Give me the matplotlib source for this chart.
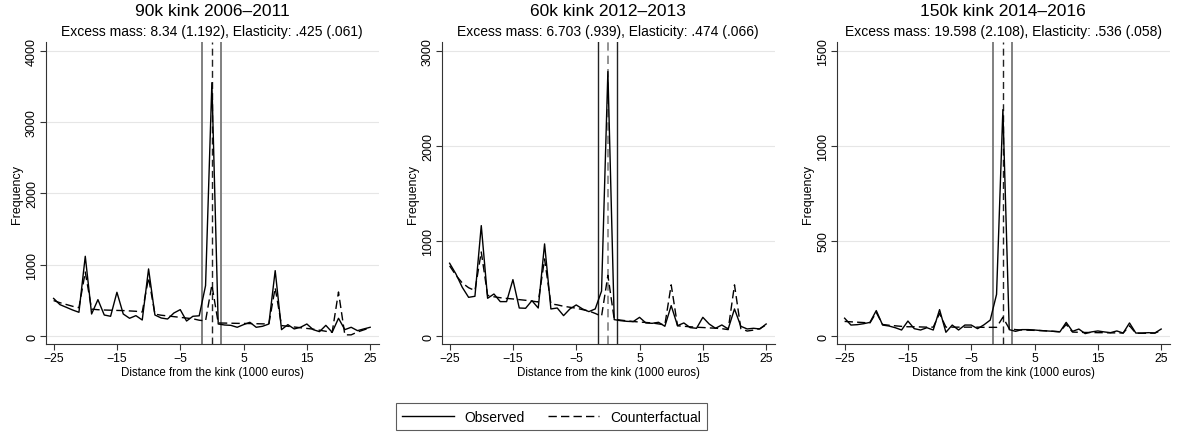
import matplotlib
matplotlib.use('Agg')
import matplotlib.pyplot as plt
from matplotlib.lines import Line2D

plt.rcParams['font.family'] = ['Liberation Sans', 'DejaVu Sans']

distance = list(range(-25, 26))

titles = ['90k kink 2006–2011', '60k kink 2012–2013', '150k kink 2014–2016']
subtitles = [
    'Excess mass: 8.34 (1.192), Elasticity: .425 (.061)',
    'Excess mass: 6.703 (.939), Elasticity: .474 (.066)',
    'Excess mass: 19.598 (2.108), Elasticity: .536 (.058)',
]

observed90 = [530, 443, 406, 368, 336, 1120, 312, 513, 298, 280,
              616, 312, 252, 289, 228, 943, 298, 256, 242, 326,
              373, 214, 280, 287, 709, 3550, 172, 158, 153, 126,
              163, 196, 126, 140, 172, 919, 93, 163, 103, 126,
              172, 93, 65, 153, 56, 252, 93, 126, 79, 103, 126]
counter90 = [500, 470, 445, 420, 400, 900, 380, 372, 368, 365,
             362, 360, 355, 350, 340, 820, 310, 295, 285, 275,
             265, 255, 245, 225, 215, 720, 186, 185, 183, 181,
             180, 178, 176, 174, 172, 680, 150, 140, 130, 120,
             110, 100, 85, 70, 55, 620, 20, 20, 60, 90, 120]

observed60 = [767, 654, 514, 409, 420, 1162, 399, 444, 364, 364,
              595, 297, 294, 374, 297, 970, 287, 297, 217, 287,
              329, 287, 259, 287, 475, 2780, 175, 164, 157, 154,
              199, 140, 136, 147, 105, 322, 112, 140, 91, 84,
              199, 129, 84, 119, 77, 287, 105, 77, 84, 77, 129]
counter60 = [740, 640, 560, 510, 480, 885, 430, 415, 405, 398,
             392, 385, 378, 370, 360, 812, 340, 330, 315, 305,
             295, 280, 265, 240, 210, 640, 180, 170, 162, 155,
             150, 145, 140, 130, 120, 540, 110, 105, 100, 95,
             92, 88, 85, 80, 70, 540, 80, 55, 65, 80, 120]

observed150 = [95, 59, 61, 66, 73, 135, 59, 54, 45, 33,
               80, 40, 33, 45, 33, 140, 21, 59, 33, 59,
               59, 40, 60, 85, 220, 1190, 35, 26, 35, 35,
               33, 30, 28, 26, 23, 73, 26, 38, 14, 23,
               28, 23, 19, 28, 17, 70, 17, 17, 19, 17, 38]
counter150 = [78, 76, 74, 72, 70, 125, 62, 58, 55, 52,
              50, 50, 49, 48, 48, 120, 48, 48, 48, 48,
              48, 48, 47, 47, 47, 100, 40, 35, 33, 32,
              31, 30, 28, 26, 24, 62, 22, 21, 20, 20,
              19, 19, 18, 18, 17, 55, 16, 16, 16, 17, 30]

observedAll = [observed90, observed60, observed150]
counterAll = [counter90, counter60, counter150]
yTicks = [[0, 1000, 2000, 3000, 4000], [0, 1000, 2000, 3000], [0, 500, 1000, 1500]]
xTicks = [-25, -15, -5, 5, 15, 25]
windowEdges = [-1.5, 1.5]

fig = plt.figure(figsize=(11.81, 4.35), dpi=100)
axLefts = [45.7, 441.7, 836.7]
axWidth = 333.0

for i in range(3):
    ax = fig.add_axes([axLefts[i] / 1181, 90 / 435, axWidth / 1181, 302 / 435])
    top = yTicks[i][-1]
    ax.set_ylim(-0.027 * top, 1.03 * top)
    ax.set_xlim(-26.25, 26.35)

    for y in yTicks[i]:
        ax.axhline(y, color='#e6e6e6', lw=0.8, zorder=0)

    # middle panel has dark window edges and a grey kink line, the others the reverse
    if i == 1:
        ax.axvline(windowEdges[0], color='#222222', lw=1.0, zorder=1)
        ax.axvline(windowEdges[1], color='#222222', lw=1.0, zorder=1)
        ax.axvline(0, color='#808080', lw=1.2, linestyle=(0, (5, 3)), zorder=1)
    else:
        ax.axvline(windowEdges[0], color='#808080', lw=1.4, zorder=1)
        ax.axvline(windowEdges[1], color='#808080', lw=1.4, zorder=1)
        ax.axvline(0, color='#222222', lw=1.0, linestyle=(0, (5, 3)), zorder=1)

    ax.plot(distance, observedAll[i], color='black', lw=1.0, zorder=3)
    ax.plot(distance, counterAll[i], color='black', lw=1.0, linestyle=(0, (6, 3)), zorder=3)

    for side in ['top', 'right']:
        ax.spines[side].set_visible(False)
    for side in ['left', 'bottom']:
        ax.spines[side].set_color('#333333')
        ax.spines[side].set_linewidth(0.8)

    ax.set_xticks(xTicks)
    ax.set_yticks(yTicks[i])
    ax.set_yticklabels([str(v) for v in yTicks[i]], rotation=90, va='center')
    ax.tick_params(axis='both', length=4, width=0.8, color='#333333', labelsize=9)
    ax.tick_params(axis='y', pad=1.5)
    ax.tick_params(axis='x', pad=2, labelsize=8.8)

    ax.text(0.5, 1.103, titles[i], transform=ax.transAxes, ha='center', va='center', fontsize=12.5)
    ax.text(0.5, 1.036, subtitles[i], transform=ax.transAxes, ha='center', va='center', fontsize=10)
    ax.text(-29 / axWidth, 0.5, 'Frequency', transform=ax.transAxes, ha='center', va='center',
            rotation=90, fontsize=9)
    ax.text(0.5, -28 / 302, 'Distance from the kink (1000 euros)', transform=ax.transAxes,
            ha='center', va='center', fontsize=8.3)

handles = [
    Line2D([], [], color='black', lw=1.0),
    Line2D([], [], color='black', lw=1.0, linestyle=(0, (6, 3))),
]
legend = fig.legend(handles, ['Observed', 'Counterfactual'], loc='center',
                    bbox_to_anchor=(551.5 / 1181, 17.3 / 435), ncol=2, fontsize=10,
                    frameon=True, fancybox=False, edgecolor='#333333',
                    handlelength=3.7, handletextpad=0.75, columnspacing=1.7,
                    borderpad=0.45)
legend.get_frame().set_linewidth(0.8)

fig.savefig('out.png', dpi=100)
